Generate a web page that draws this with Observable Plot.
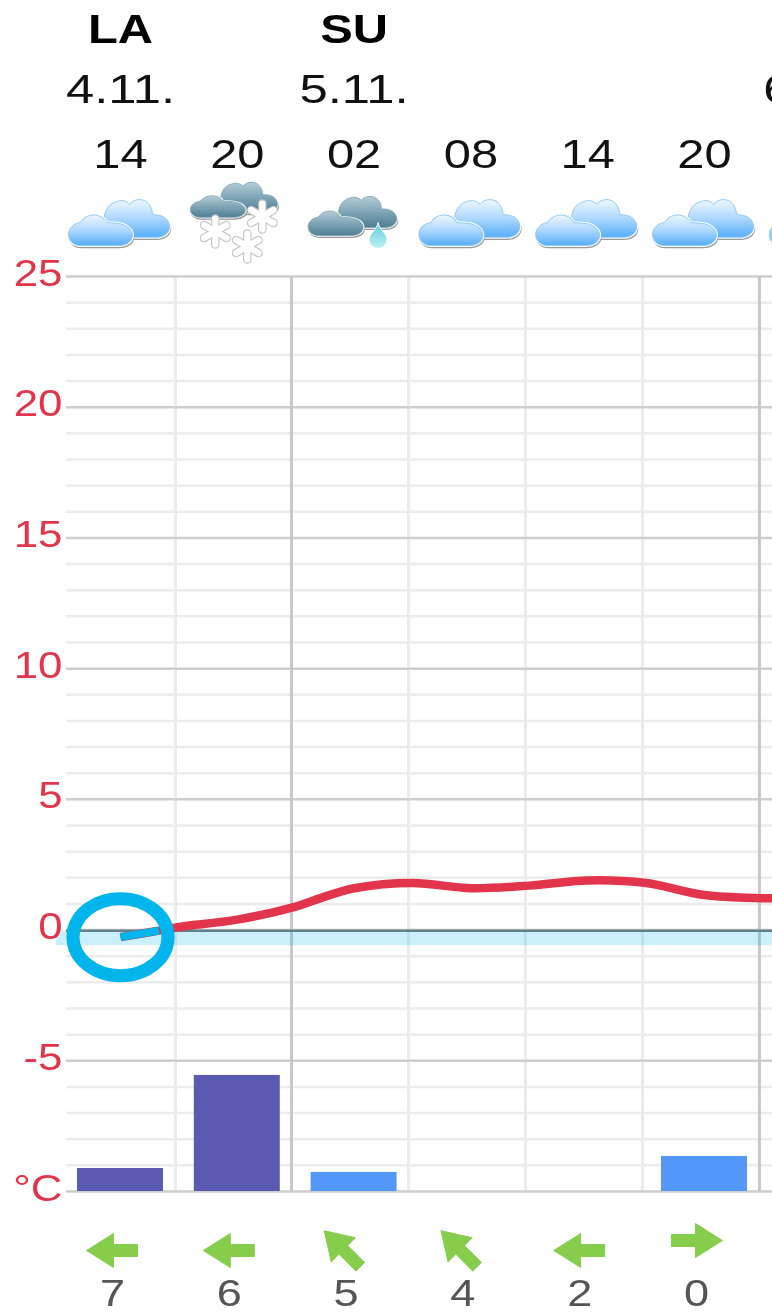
<!DOCTYPE html>
<html><head><meta charset="utf-8">
<script src="https://cdn.jsdelivr.net/npm/d3@7"></script>
<script src="https://cdn.jsdelivr.net/npm/@observablehq/plot@0.6"></script>
<style>html,body{margin:0;padding:0;background:#fff}svg{display:block;filter:blur(.45px)}</style>
</head><body><div id="chart"></div>
<script>
const slots = [0, 1, 2, 3, 4, 5];
const hourLabels = ["14", "20", "02", "08", "14", "20"];
const dayNames = [{slot: 0, label: "LA"}, {slot: 2, label: "SU"}];
const dates = [{slot: 0, label: "4.11."}, {slot: 2, label: "5.11."}, {slot: 5.97, label: "6.11."}];
const weather = ["cloud", "snow", "rain", "cloud", "cloud", "cloud", "cloud"];
const windSpeed = [7, 6, 5, 4, 2, 0];
const windRotate = [0, 0, 45, 45, 0, 180];
const precip = [0.88, 4.44, 0.73, 0, 0, 1.34];
const precipKind = ["snow", "snow", "rain", "rain", "rain", "rain"];
const tempSlot = [0, 0.33, 0.5, 1, 1.5, 1.75, 2, 2.5, 3, 3.5, 4, 4.5, 5, 5.5, 6];
const tempC = [-0.27, -0.02, 0.12, 0.4, 0.9, 1.28, 1.6, 1.8, 1.6, 1.7, 1.9, 1.8, 1.34, 1.22, 1.22];
const yMajor = [-10, -5, 0, 5, 10, 15, 20, 25];
const yMinor = d3.range(-10, 25).filter(v => v % 5 !== 0);
const yLabels = ["°C", "-5", "0", "5", "10", "15", "20", "25"];
const gridMinor = [0.471, 2.466, 3.467, 4.469];
const gridMajor = [1.464, 5.47];
const xLeft = -0.462, xRight = 5.6, xBand = -0.55;
const yBottom = -10, yTop = 25;

const RED = "#e2344a", RING = "#00b4ec";

const backCloud = "M14 40C5 40 0 34 0 27C0 18 2 6 14 3C20 1 24 3 27 6C31 0 42 -1 47 6C50 10 50 14 51 17C60 16 68 21 68 29C68 36 62 40 54 40Z";
const frontCloud = "M12 35C5 35 0 30 0 24C0 18 5 13 12 12C17 3 32 1 38 12L50 13C58 14 64 19 64 25C64 31 58 35 50 35Z";
function cloudLayer(path, tx, ty, sx, sy, grad, edge) {
  const t = `translate(${tx} ${ty}) scale(${sx} ${sy})`;
  return `<path d="${path}" transform="translate(${tx + 0.8} ${ty + 1.8}) scale(${sx} ${sy})" fill="#9a9a9a" stroke="#9a9a9a" stroke-width="2"/>` +
    `<path d="${path}" transform="${t}" fill="#fff" stroke="#fff" stroke-width="3"/>` +
    `<path d="${path}" transform="${t}" fill="url(#${grad})" stroke="${edge}" stroke-width="1"/>`;
}
function flake(cx, cy, r) {
  let s = "";
  for (const [w, c] of [[8.5, "#c4c4c4"], [6.2, "#fff"]]) {
    for (let a = 0; a < 3; a++) {
      const th = a * Math.PI / 3 + Math.PI / 6;
      const dx = r * Math.cos(th), dy = r * Math.sin(th);
      s += `<line x1="${cx - dx}" y1="${cy - dy}" x2="${cx + dx}" y2="${cy + dy}" stroke="${c}" stroke-width="${w}" stroke-linecap="round"/>`;
    }
  }
  return s;
}
const defs = `<defs>
<linearGradient id="l" x1="0" y1="0" x2="0" y2="1"><stop offset="0" stop-color="#eef8ff"/><stop offset=".45" stop-color="#b5dcff"/><stop offset="1" stop-color="#56aef8"/></linearGradient>
<linearGradient id="d" x1="0" y1="0" x2="0" y2="1"><stop offset="0" stop-color="#b4cdd8"/><stop offset=".5" stop-color="#7fa5b6"/><stop offset="1" stop-color="#4e7e93"/></linearGradient>
<linearGradient id="w" x1="0" y1="0" x2="0" y2="1"><stop offset="0" stop-color="#5fc9d8"/><stop offset="1" stop-color="#bff2f7"/></linearGradient>
</defs>`;
const svgIcon = (w, h, body) => "data:image/svg+xml," + encodeURIComponent(
  `<svg xmlns="http://www.w3.org/2000/svg" width="${w}" height="${h}" viewBox="0 0 ${w} ${h}">${defs}${body}</svg>`);
const iconSrc = {
  cloud: svgIcon(110, 90, cloudLayer(backCloud, 38, 21, 0.97, 0.97, "l", "#8fcaf5") + cloudLayer(frontCloud, 3, 33, 1, 1, "l", "#8fcaf5")),
  snow: svgIcon(110, 90,
    cloudLayer(backCloud, 38, 4, 0.84, 0.78, "d", "#7fa5b6") + cloudLayer(frontCloud, 8, 15, 0.86, 0.71, "d", "#7fa5b6") +
    flake(33, 54, 13) + flake(80, 39, 13) + flake(65, 69, 13)),
  rain: svgIcon(110, 90,
    cloudLayer(backCloud, 39, 18, 0.86, 0.8, "d", "#7fa5b6") + cloudLayer(frontCloud, 9, 30, 0.86, 0.8, "d", "#7fa5b6") +
    `<path d="M79 45C80 52 88 56 88 62A9 9 0 0 1 70 62C70 56 78 52 79 45Z" fill="url(#w)" stroke="#fff" stroke-width="1"/>`)
};

const arrow = {draw(c) {
  const o = 5;
  c.moveTo(-26, o);
  c.lineTo(1, o - 17);
  c.lineTo(1, o - 6);
  c.lineTo(25, o - 6);
  c.lineTo(25, o + 6);
  c.lineTo(1, o + 6);
  c.lineTo(1, o + 17);
  c.closePath();
}};
const ring = {draw(c, size) {
  const r = Math.sqrt(size / Math.PI), rx = r * 1.234, ry = r, k = 0.5523;
  c.moveTo(rx, 0);
  c.bezierCurveTo(rx, ry * k, rx * k, ry, 0, ry);
  c.bezierCurveTo(-rx * k, ry, -rx, ry * k, -rx, 0);
  c.bezierCurveTo(-rx, -ry * k, -rx * k, -ry, 0, -ry);
  c.bezierCurveTo(rx * k, -ry, rx, -ry * k, rx, 0);
  c.closePath();
}};

const slotRows = slots.map((s, i) => ({s, hour: hourLabels[i], wind: windSpeed[i], rot: windRotate[i], mm: precip[i], kind: precipKind[i]}));
const iconRows = weather.map((w, i) => ({s: i, src: iconSrc[w]}));
const tempRows = tempSlot.map((s, i) => ({s, t: tempC[i]}));
const hText = (o) => ({frameAnchor: "top", textAnchor: "middle", lineAnchor: "bottom", fontFamily: "Liberation Sans", fontSize: 40, ...o});

const chart = Plot.plot({
  width: 772, height: 1313, margin: 0,
  x: {domain: [0, 5], range: [120, 704], axis: null},
  y: {domain: [yBottom, yTop], range: [1191, 276], axis: null},
  marks: [
    Plot.ruleX(gridMinor, {x: d => d, y1: yBottom, y2: yTop, stroke: "#ececec", strokeWidth: 3}),
    Plot.ruleY(yMinor, {y: d => d, x1: xLeft, x2: xRight, stroke: "#ececec", strokeWidth: 2.5}),
    Plot.ruleY(yMajor, {y: d => d, x1: xLeft, x2: xRight, stroke: "#cecece", strokeWidth: 2.5}),
    Plot.ruleX(gridMajor, {x: d => d, y1: yBottom, y2: yTop, stroke: "#c8c8c8", strokeWidth: 3}),
    Plot.rect([0], {x1: xBand, x2: xRight, y1: -0.6, y2: -0.03, fill: RING, fillOpacity: 0.2}),
    Plot.ruleY([-0.03], {x1: xLeft, x2: xRight, stroke: "#5f808e", strokeWidth: 2.5}),
    Plot.rect(slotRows.filter(d => d.mm > 0), {
      x1: d => d.s - 0.368, x2: d => d.s + 0.368, y1: yBottom, y2: d => yBottom + d.mm,
      fill: d => d.kind === "snow" ? "#5a5ab2" : "#5398f8"
    }),
    Plot.line(tempRows, {x: "s", y: "t", curve: "catmull-rom", stroke: RED, strokeWidth: 8.5, strokeLinecap: "butt"}),
    Plot.line(tempRows.slice(0, 2), {x: "s", y: "t", stroke: RING, strokeWidth: 8, strokeLinecap: "butt"}),
    Plot.dot(tempRows.slice(0, 1), {x: "s", y: "t", symbol: ring, r: 38.5, stroke: RING, strokeWidth: 13, fill: "none"}),
    Plot.image(iconRows, {x: "s", src: "src", frameAnchor: "top", dy: 222, width: 110, height: 90}),
    Plot.text(yLabels, {x: xLeft, y: yMajor, text: d => d, textAnchor: "end", lineAnchor: "bottom", dx: -4, dy: 9,
      fill: RED, fontFamily: "Liberation Sans", fontSize: 36}),
    Plot.text(dayNames, hText({x: "slot", text: "label", dy: 42, fontWeight: "bold", fill: "#000"})),
    Plot.text(dates, hText({x: "slot", text: "label", dy: 102, fill: "#111"})),
    Plot.text(slotRows, hText({x: "s", text: "hour", dy: 167, fill: "#111"})),
    Plot.dot(slotRows, {x: "s", frameAnchor: "top", dx: -8, dy: 1245, symbol: arrow, rotate: "rot", r: 10,
      fill: "#86cd4c", stroke: "#86cd4c", strokeWidth: 1, strokeLinejoin: "round"}),
    Plot.text(slotRows, hText({x: "s", text: "wind", dx: -8, dy: 1305, fontSize: 37, fill: "#555"}))
  ]
});
document.getElementById("chart").appendChild(chart);
// The reference is stretched horizontally: widen every label to match.
chart.querySelectorAll("text").forEach(t => {
  const len = t.getComputedTextLength();
  if (len > 0) {
    const stretch = t.textContent.endsWith(".") ? 1.27 : 1.22;
    t.setAttribute("textLength", (len * stretch).toFixed(1));
    t.setAttribute("lengthAdjust", "spacingAndGlyphs");
  }
});
</script></body></html>
